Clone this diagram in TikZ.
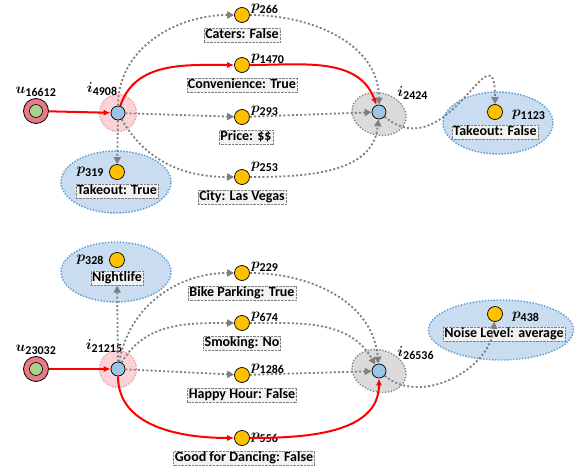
\documentclass[tikz,border=0pt]{standalone}
\usepackage{fontspec}
\setmainfont{Carlito}
\usepackage{bm}
\DeclareMathSizes{15}{15}{12}{9}
\usetikzlibrary{arrows.meta,positioning,shapes.geometric}
\definecolor{itemBlue}{HTML}{9DC3E6}
\definecolor{propYellow}{HTML}{FFC000}
\definecolor{userRed}{HTML}{E97A85}
\definecolor{userGreen}{HTML}{A9D18E}
\definecolor{blobFill}{HTML}{C9DCF0}
\definecolor{blobEdge}{HTML}{5B9BD5}
\definecolor{haloFill}{HTML}{FAD3D8}
\definecolor{haloEdge}{HTML}{F08C9A}
\definecolor{linkGray}{HTML}{7F7F7F}
\newcommand{\nodeLab}[2]{$\bm{#1}_{\mathbf{#2}}$}
\tikzset{
  userOuter/.style={
    circle,
    draw=black,
    fill=userRed,
    line width=0.8pt,
    minimum size=25pt,
    inner sep=0pt
  },
  userInner/.style={
    circle,
    draw=black,
    fill=userGreen,
    line width=0.6pt,
    minimum size=13pt,
    inner sep=0pt
  },
  itemNode/.style={
    circle,
    draw=black,
    fill=itemBlue,
    line width=0.7pt,
    minimum size=14pt,
    inner sep=0pt
  },
  propNode/.style={
    circle,
    draw=black,
    fill=propYellow,
    line width=0.7pt,
    minimum size=15pt,
    inner sep=0pt
  },
  itemHalo/.style={
    circle,
    draw=haloEdge,
    fill=haloFill,
    line width=1.2pt,
    dash pattern=on 1.2pt off 1.6pt,
    minimum size=37pt
  },
  targetHalo/.style={
    ellipse,
    draw=linkGray,
    fill=gray!28,
    line width=1.3pt,
    dash pattern=on 1.3pt off 1.7pt,
    minimum width=55pt,
    minimum height=42pt
  },
  prefBlob/.style={
    ellipse,
    draw=blobEdge,
    fill=blobFill,
    line width=1.4pt,
    dash pattern=on 1.4pt off 1.6pt
  },
  attrBox/.style={
    rectangle,
    draw=gray,
    densely dotted,
    fill=gray!10,
    inner sep=1.2pt,
    text height=9.6pt,
    text depth=2.4pt,
    font=\bfseries\fontsize{14}{15}\selectfont
  },
  nameLabel/.style={
    inner sep=1pt,
    font=\fontsize{15}{17}\selectfont
  },
  redLink/.style={
    -{Latex[length=7pt,width=6pt]},
    draw=red,
    line width=2pt
  },
  grayLink/.style={
    -{Triangle[length=7pt,width=7pt]},
    draw=linkGray,
    line width=1.8pt,
    dash pattern=on 2pt off 2.2pt
  }
}

\begin{document}
\begin{tikzpicture}[x=1pt,y=1pt]
    \useasboundingbox (0,0) rectangle (582,-473);

    % backgrounds
    \node[prefBlob, minimum width=110pt, minimum height=62pt] (blob319) at (116,-182) {};
    \node[prefBlob, minimum width=110pt, minimum height=62pt] (blob1123) at (498,-123) {};
    \node[prefBlob, minimum width=110pt, minimum height=60pt] (blob328) at (116,-272) {};
    \node[prefBlob, minimum width=145pt, minimum height=60pt] (blob438) at (501,-330) {};
    \node[itemHalo] (halo4908) at (118,-113) {};
    \node[itemHalo] (halo21215) at (118,-369) {};
    \node[targetHalo, rotate=-15] (halo2424) at (379,-114) {};
    \node[targetHalo, rotate=-15] (halo26536) at (379,-371) {};

    % upper path
    \node[userOuter] (u16612) at (36,-111) {};
    \node[userInner] (u16612in) at (u16612) {};
    \node[nameLabel, above=0pt of u16612] (lu16612) {\nodeLab{u}{16612}};
    \node[itemNode] (i4908) at (118,-113) {};
    \node[nameLabel, above left=11pt and -6pt of i4908] (li4908) {\nodeLab{i}{4908}};
    \node[itemNode] (i2424) at (379,-112) {};
    \node[nameLabel, above right=6pt and 12pt of i2424] (li2424) {\nodeLab{i}{2424}};

    \node[propNode] (p266) at (242,-15) {};
    \node[nameLabel, above right=0pt and 0pt of p266.east] (lp266) {\nodeLab{p}{266}};
    \node[attrBox, below=5pt of p266] (a266) {Caters: False};
    \node[propNode] (p1470) at (242,-65) {};
    \node[nameLabel, above right=0pt and 0pt of p1470.east] (lp1470) {\nodeLab{p}{1470}};
    \node[attrBox, below=5pt of p1470] (a1470) {Convenience: True};
    \node[propNode] (p293) at (242,-117) {};
    \node[nameLabel, above right=0pt and 0pt of p293.east] (lp293) {\nodeLab{p}{293}};
    \node[attrBox, below=5pt of p293, xshift=4pt] (a293) {Price: \$\$};
    \node[propNode] (p253) at (242,-177) {};
    \node[nameLabel, above right=4pt and 0pt of p253.east] (lp253) {\nodeLab{p}{253}};
    \node[attrBox, below=5pt of p253] (a253) {City: Las Vegas};
    \node[propNode] (p319) at (117,-172) {};
    \node[nameLabel, left=4pt of p319] (lp319) {\nodeLab{p}{319}};
    \node[attrBox, below=4pt of p319] (a319) {Takeout: True};
    \node[propNode] (p1123) at (495,-112) {};
    \node[nameLabel, right=8pt of p1123, yshift=-3pt] (lp1123) {\nodeLab{p}{1123}};
    \node[attrBox, below=5pt of p1123] (a1123) {Takeout: False};

    \draw[redLink] (u16612) -- (i4908);
    \draw[redLink] (i4908) to[out=72,in=180] (p1470);
    \draw[redLink] (p1470) to[out=0,in=110] (i2424);
    \draw[grayLink] (i4908) to[out=90,in=180] (p266);
    \draw[grayLink] (p266) to[out=0,in=90] (i2424);
    \draw[grayLink] (i4908) -- (p293);
    \draw[grayLink] (p293) -- (i2424);
    \draw[grayLink] (i4908) to[out=-60,in=180] (p253);
    \draw[grayLink] (p253) to[out=0,in=-95] (i2424);
    \draw[grayLink] (i4908) -- (p319);
    \draw[grayLink] (i2424) to[out=-40,in=90,looseness=1.9] (p1123);

    % lower path
    \node[userOuter] (u23032) at (36,-369) {};
    \node[userInner] (u23032in) at (u23032) {};
    \node[nameLabel, above=0pt of u23032] (lu23032) {\nodeLab{u}{23032}};
    \node[itemNode] (i21215) at (118,-369) {};
    \node[nameLabel, above left=10pt and -11pt of i21215] (li21215) {\nodeLab{i}{21215}};
    \node[itemNode] (i26536) at (379,-371) {};
    \node[nameLabel, above right=5pt and 12pt of i26536] (li26536) {\nodeLab{i}{26536}};

    \node[propNode] (p328) at (117,-260) {};
    \node[nameLabel, left=4pt of p328] (lp328) {\nodeLab{p}{328}};
    \node[attrBox, below=3pt of p328] (a328) {Nightlife};
    \node[propNode] (p229) at (242,-273) {};
    \node[nameLabel, above right=0pt and 0pt of p229.east] (lp229) {\nodeLab{p}{229}};
    \node[attrBox, below=5pt of p229] (a229) {Bike Parking: True};
    \node[propNode] (p674) at (242,-323) {};
    \node[nameLabel, above right=0pt and 0pt of p674.east] (lp674) {\nodeLab{p}{674}};
    \node[attrBox, below=5pt of p674] (a674) {Smoking: No};
    \node[propNode] (p1286) at (242,-375) {};
    \node[nameLabel, above right=0pt and 0pt of p1286.east] (lp1286) {\nodeLab{p}{1286}};
    \node[attrBox, below=5pt of p1286] (a1286) {Happy Hour: False};
    \node[propNode] (p556) at (242,-438) {};
    \node[nameLabel, right=0pt of p556.east] (lp556) {\nodeLab{p}{556}};
    \node[attrBox, below=5pt of p556, xshift=2pt] (a556) {Good for Dancing: False};
    \node[propNode] (p438) at (495,-314) {};
    \node[nameLabel, right=8pt of p438, yshift=-3pt] (lp438) {\nodeLab{p}{438}};
    \node[attrBox, below=5pt of p438, xshift=9pt] (a438) {Noise Level: average};

    \draw[redLink] (u23032) -- (i21215);
    \draw[redLink] (i21215) to[out=-90,in=180] (p556);
    \draw[redLink] (p556) to[out=0,in=-90] (i26536);
    \draw[grayLink] (i21215) -- (a328);
    \draw[grayLink] (i21215) to[out=80,in=180] (p229);
    \draw[grayLink] (p229) to[out=0,in=95] (i26536);
    \draw[grayLink] (i21215) to[out=60,in=180] (p674);
    \draw[grayLink] (p674) to[out=0,in=120] (i26536);
    \draw[grayLink] (i21215) -- (p1286);
    \draw[grayLink] (p1286) -- (i26536);
    \draw[grayLink] (i26536) to[out=-40,in=-95] (p438);

\end{tikzpicture}
\end{document}
